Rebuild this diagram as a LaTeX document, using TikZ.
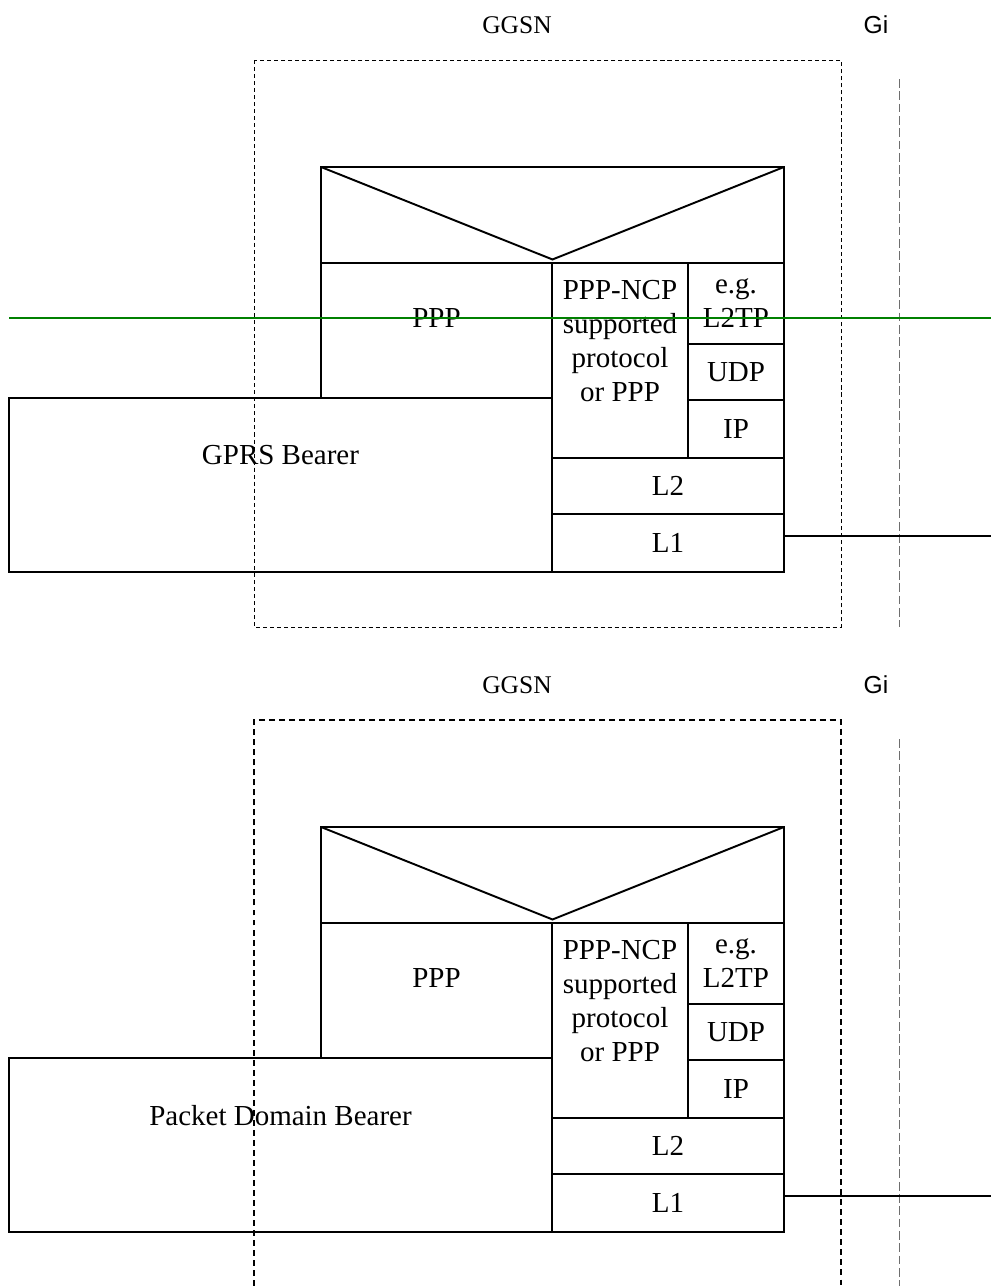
\documentclass[tikz,border=0pt]{standalone}
\usepackage{fontspec}
\setmainfont{Liberation Serif}
\newfontfamily\gifont{Liberation Sans}
\usetikzlibrary{positioning}
\definecolor{guide}{RGB}{0,128,0}
\definecolor{ifline}{RGB}{110,110,110}

\begin{document}
\begin{tikzpicture}[x=0.02cm, y=-0.02cm,
  layer/.style={draw, line width=1.6pt, inner sep=0pt, outer sep=0pt, align=center, font=\fontsize{16.5}{19.4}\selectfont},
  lbl/.style={inner sep=0pt, align=center, font=\fontsize{16.5}{19.4}\selectfont},
  title/.style={font=\fontsize{14.5}{17}\selectfont},
  gidash/.style={ifline, line width=0.5pt, dash pattern=on 5pt off 2pt},
  wire/.style={line width=1.5pt}]
\useasboundingbox (0,0) rectangle (991,1286);
% GGSN frames and Gi reference points
\draw[line width=0.4pt, dash pattern=on 2.3pt off 1.7pt] (254,60) rectangle (841,627);
\draw[line width=1pt, dash pattern=on 3.4pt off 2.3pt] (254,1286) -- (254,720) -- (841,720) -- (841,1286);
\draw[gidash] (899,79) -- (899,627);
\draw[gidash] (899,739) -- (899,1286);
\foreach \yo/\brr/\n in {0/GPRS Bearer/a, 660/Packet Domain Bearer/b}{
\begin{scope}[shift={(0,\yo)}]
\node[title] (ggsn\n) at (517,25) {GGSN};
\node[title, font=\gifont\fontsize{14}{17}\selectfont] (gi\n) at (876,25) {Gi};
\node[layer, minimum width=9.26cm, minimum height=1.92cm] (env\n) at (552.5,215) {};
\draw[line width=1.1pt] (env\n.north west) -- ([yshift=2pt]env\n.south) -- (env\n.north east);
\node[layer, minimum width=4.62cm, minimum height=2.7cm] (ppp\n) at (436.5,330.5) {};
\node[lbl] (ppptext\n) at ([yshift=7pt]ppp\n.center) {PPP};
\node[layer, minimum width=2.72cm, minimum height=3.9cm] (ncp\n) at (620,360.5) {};
\node[lbl] (ncptext\n) at ([yshift=11pt]ncp\n.center) {PPP-NCP\\supported\\protocol\\or PPP};
\node[layer, minimum width=1.92cm, minimum height=1.62cm] (l2tp\n) at (736,303.5) {e.g.\\L2TP};
\node[layer, minimum width=1.92cm, minimum height=1.12cm, below=0pt of l2tp\n] (udp\n) {UDP};
\node[layer, minimum width=1.92cm, minimum height=1.16cm, below=0pt of udp\n] (ip\n) {IP};
\node[layer, minimum width=4.64cm, minimum height=1.12cm] (l2\n) at (668,486) {L2};
\node[layer, minimum width=4.64cm, minimum height=1.16cm, below=0pt of l2\n] (l1\n) {L1};
\node[layer, minimum width=10.86cm, minimum height=3.48cm] (bearer\n) at (280.5,485) {};
\node[lbl] (bearertext\n) at ([yshift=17pt]bearer\n.center) {\brr};
\coordinate (out\n) at (991,536);
\draw[wire] (l1\n.east |- out\n) -- (out\n);
\end{scope}
}
\draw[guide, line width=0.7pt] (9,318) -- (991,318);
\end{tikzpicture}
\end{document}
